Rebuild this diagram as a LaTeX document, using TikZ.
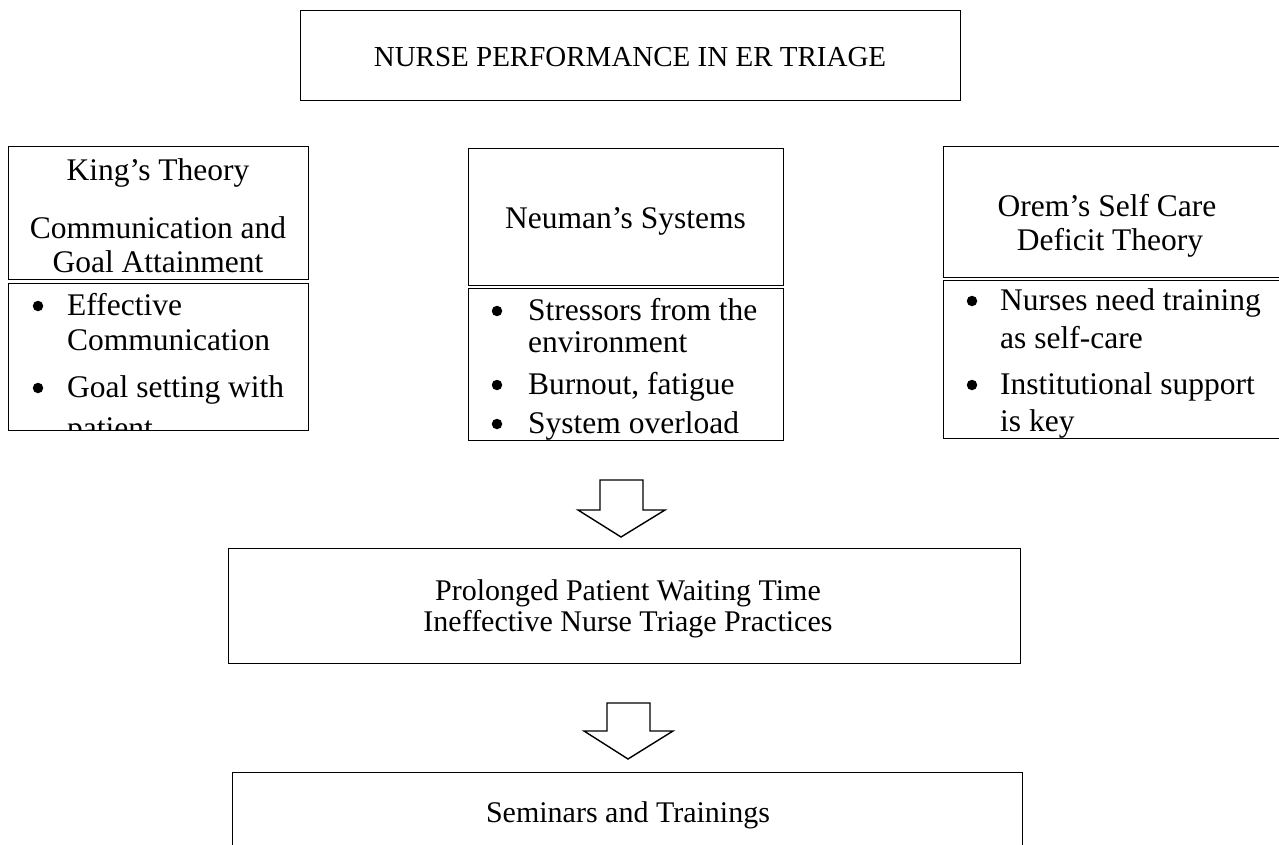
\documentclass[tikz,border=0pt]{standalone}
\usepackage{fontspec}
\setmainfont{Liberation Serif}
\begin{document}
\begin{tikzpicture}[x=1pt,y=-1pt,
  box/.style={draw=black,line width=1.4pt,inner sep=0pt,anchor=north west},
  txt/.style={inner sep=0pt,anchor=base,font=\fontsize{31.5}{34}\selectfont},
  mid/.style={inner sep=0pt,anchor=base,font=\fontsize{30}{31}\selectfont},
  bul/.style={inner sep=0pt,anchor=base west,font=\fontsize{31.5}{34}\selectfont},
  dot/.style={circle,fill=black,inner sep=0pt,minimum size=10.5pt},
  blockarrow/.style={draw=black,line width=1.4pt,fill=white,line join=miter}]
\clip (0,0) rectangle (1279,845);
% top
\node[box,minimum width=660pt,minimum height=90pt] (top) at (300,10) {};
\node[txt,font=\fontsize{29}{32}\selectfont] (toptxt) at (630,67) {NURSE PERFORMANCE IN ER TRIAGE};
% King
\node[box,minimum width=300pt,minimum height=133pt] (kingh) at (8,146) {};
\node[txt] (k1) at (158,181) {King’s Theory};
\node[txt] (k2) at (158,238) {Communication and};
\node[txt] (k3) at (158,272) {Goal Attainment};
\node[box,minimum width=300pt,minimum height=147pt] (kingl) at (8,283) {};
\begin{scope}
\clip (8,283) rectangle (308,430);
\node[dot] (kb1) at (38,306) {};
\node[bul] (kt1) at (67,315) {Effective};
\node[bul] (kt2) at (67,350) {Communication};
\node[dot] (kb2) at (38,388) {};
\node[bul] (kt3) at (67,397) {Goal setting with};
\node[bul] (kt4) at (67,438) {patient};
\end{scope}
% Neuman
\node[box,minimum width=315pt,minimum height=137pt] (neuh) at (468,148) {};
\node[txt] (n1) at (625.5,229) {Neuman’s Systems};
\node[box,minimum width=315pt,minimum height=152pt] (neul) at (468,288) {};
\begin{scope}
\clip (468,288) rectangle (783,440);
\node[dot] (nb1) at (497,311) {};
\node[bul] (nt1) at (528,320) {Stressors from the};
\node[bul] (nt2) at (528,352) {environment};
\node[dot] (nb2) at (497,385) {};
\node[bul] (nt3) at (528,394) {Burnout, fatigue};
\node[dot] (nb3) at (497,424) {};
\node[bul] (nt4) at (528,433) {System overload};
\end{scope}
% Orem
\node[box,minimum width=340pt,minimum height=131pt] (oremh) at (943,146) {};
\node[txt] (o1) at (1107,217) {Orem’s Self Care};
\node[txt] (o2) at (1110,250) {Deficit Theory};
\node[box,minimum width=340pt,minimum height=158pt] (oreml) at (943,280) {};
\begin{scope}
\clip (943,280) rectangle (1279,438);
\node[dot] (ob1) at (972,301) {};
\node[bul] (ot1) at (1000,310) {Nurses need training};
\node[bul] (ot2) at (1000,348) {as self-care};
\node[dot] (ob2) at (972,385) {};
\node[bul] (ot3) at (1000,394) {Institutional support};
\node[bul] (ot4) at (1000,431) {is key};
\end{scope}
% arrow 1
\draw[blockarrow] (600,480) -- (643,480) -- (643,510) -- (665,510) -- (621,537) -- (578,510) -- (600,510) -- cycle;
% middle
\node[box,minimum width=792pt,minimum height=115pt] (midbox) at (228,548) {};
\node[mid] (m1) at (628,600) {Prolonged Patient Waiting Time};
\node[mid] (m2) at (628,631) {Ineffective Nurse Triage Practices};
% arrow 2
\draw[blockarrow] (607,703) -- (650,703) -- (650,731) -- (673,731) -- (628,759) -- (584,731) -- (607,731) -- cycle;
% bottom
\node[box,minimum width=790pt,minimum height=120pt] (botbox) at (232,772) {};
\node[mid] (b1) at (628,822) {Seminars and Trainings};
\end{tikzpicture}
\end{document}
